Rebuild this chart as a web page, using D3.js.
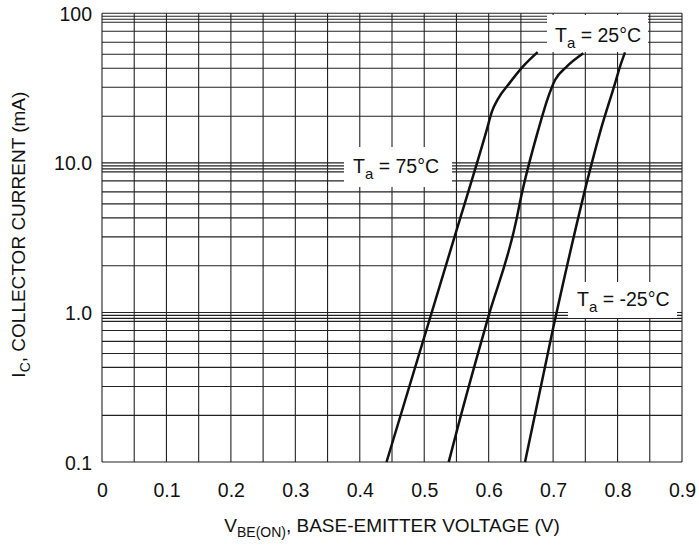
<!DOCTYPE html>
<html>
<head>
<meta charset="utf-8">
<script src="https://cdn.jsdelivr.net/npm/d3@7"></script>
<style>
  body { margin: 0; background: #fff; }
  svg { display: block; font-family: Arial, "Liberation Sans", Helvetica, sans-serif; }
</style>
</head>
<body>
<svg id="chart" width="699" height="546"></svg>
<script>
// ---------- data ----------
const xTickValues = [0, 0.1, 0.2, 0.3, 0.4, 0.5, 0.6, 0.7, 0.8, 0.9];
const xTickLabels = ["0", "0.1", "0.2", "0.3", "0.4", "0.5", "0.6", "0.7", "0.8", "0.9"];
const xGridValues = [0, 0.05, 0.1, 0.15, 0.2, 0.25, 0.3, 0.35, 0.4, 0.45, 0.5, 0.55, 0.6, 0.65, 0.7, 0.75, 0.8, 0.85, 0.9];
const yTickValues = [0.1, 1, 10, 100];
const yTickLabels = ["0.1", "1.0", "10.0", "100"];
const decades = [0.1, 1, 10];
// positions of the minor grid lines inside each decade, as drawn in the reference
const gridMantissas = [2.05, 3.2, 4.29, 5.32, 6.4, 7.58, 8.71, 9.12, 9.55];

const seriesNames = ["75°C", "25°C", "-25°C"];
const vbe75 = [0.4415, 0.548, 0.597, 0.605, 0.615, 0.632, 0.653, 0.676];
const ic75  = [0.1, 3.3, 16.6, 22, 27, 34, 44, 55];
const vbe25 = [0.538, 0.5556, 0.5943, 0.5995, 0.6435, 0.6487, 0.677, 0.6926, 0.703, 0.7211, 0.7469];
const ic25  = [0.1, 0.195, 0.78, 0.935, 4.25, 5.49, 16.6, 27.7, 35.8, 44, 54];
const vbeM25 = [0.6564, 0.6994, 0.7599, 0.7739, 0.7961, 0.8038, 0.8116];
const icM25  = [0.1, 0.762, 9.92, 16.6, 34, 44, 54.8];

// ---------- layout ----------
const svg = d3.select("#chart");
const mLeft = 102, mRight = 682, mTop = 13.3, mBottom = 462;
const x = d3.scaleLinear().domain([0, 0.9]).range([mLeft, mRight]);
const y = d3.scaleLog().domain([0.1, 100]).range([mBottom, mTop]);

const gridColor = "#222";

// grid
const g = svg.append("g");
g.selectAll("line.v").data(xGridValues).enter().append("line")
  .attr("x1", d => x(d)).attr("x2", d => x(d))
  .attr("y1", mTop).attr("y2", mBottom)
  .attr("stroke", gridColor).attr("stroke-width", 1.1);

const hValues = yTickValues.concat(...decades.map(dec => gridMantissas.map(m => dec * m)));
g.selectAll("line.h").data(hValues).enter().append("line")
  .attr("x1", mLeft).attr("x2", mRight)
  .attr("y1", d => y(d)).attr("y2", d => y(d))
  .attr("stroke", gridColor).attr("stroke-width", 1.1);

// curves
const series = [
  { name: seriesNames[0], v: vbe75, i: ic75 },
  { name: seriesNames[1], v: vbe25, i: ic25 },
  { name: seriesNames[2], v: vbeM25, i: icM25 }
];
const line = d3.line().x(d => x(d[0])).y(d => y(d[1])).curve(d3.curveMonotoneX);
svg.append("g").selectAll("path").data(series).enter().append("path")
  .attr("d", s => line(s.v.map((v, k) => [v, s.i[k]])))
  .attr("fill", "none").attr("stroke", "#111").attr("stroke-width", 2.5)
  .attr("stroke-linejoin", "round");

// axes tick labels
const fs = 19.5;
const xAxis = d3.axisBottom(x).tickValues(xTickValues)
  .tickFormat((d, k) => xTickLabels[k]).tickSize(0).tickPadding(0);
const xg = svg.append("g").attr("transform", `translate(0,${mBottom})`).call(xAxis);
xg.select(".domain").remove();
xg.selectAll("text").attr("y", 35).attr("dy", 0)
  .attr("font-size", fs).attr("font-family", "Arial, 'Liberation Sans', sans-serif").attr("fill", "#111");

const yAxis = d3.axisLeft(y).tickValues(yTickValues)
  .tickFormat((d, k) => yTickLabels[k]).tickSize(0).tickPadding(0);
const yg = svg.append("g").attr("transform", `translate(${mLeft},0)`).call(yAxis);
yg.select(".domain").remove();
yg.selectAll("text").attr("x", -10).attr("dy", "0.36em")
  .attr("font-size", fs).attr("font-family", "Arial, 'Liberation Sans', sans-serif").attr("fill", "#111");

// axis titles
const xt = svg.append("text").attr("x", (mLeft + mRight) / 2).attr("y", 532)
  .attr("text-anchor", "middle").attr("font-size", 19).attr("fill", "#111");
xt.append("tspan").text("V");
xt.append("tspan").attr("font-size", 14).attr("dy", 5).text("BE(ON)");
xt.append("tspan").attr("dy", -5).text(", BASE-EMITTER VOLTAGE (V)");

const yt = svg.append("text").attr("transform", `translate(25,${(mTop + mBottom) / 2 - 3}) rotate(-90)`)
  .attr("text-anchor", "middle").attr("font-size", 19).attr("fill", "#111");
yt.append("tspan").text("I");
yt.append("tspan").attr("font-size", 14).attr("dy", 5).text("C");
yt.append("tspan").attr("dy", -5).text(", COLLECTOR CURRENT (mA)");

// curve labels with white boxes
const labels = [
  { name: seriesNames[1], bx: 547, by: 15, bw: 101, bh: 37, tx: 555, ty: 42 },
  { name: seriesNames[0], bx: 344, by: 147, bw: 108, bh: 40, tx: 353, ty: 172.5 },
  { name: seriesNames[2], bx: 568, by: 282, bw: 109, bh: 36, tx: 577, ty: 305.5 }
];
const lg = svg.append("g").selectAll("g").data(labels).enter().append("g");
lg.append("rect").attr("x", d => d.bx).attr("y", d => d.by)
  .attr("width", d => d.bw).attr("height", d => d.bh).attr("fill", "#fff");
const lt = lg.append("text").attr("x", d => d.tx).attr("y", d => d.ty)
  .attr("font-size", 19.5).attr("fill", "#111");
lt.append("tspan").text("T");
lt.append("tspan").attr("font-size", 15).attr("dy", 6).text("a");
lt.append("tspan").attr("dy", -6).text(d => " = " + d.name);
</script>
</body>
</html>
